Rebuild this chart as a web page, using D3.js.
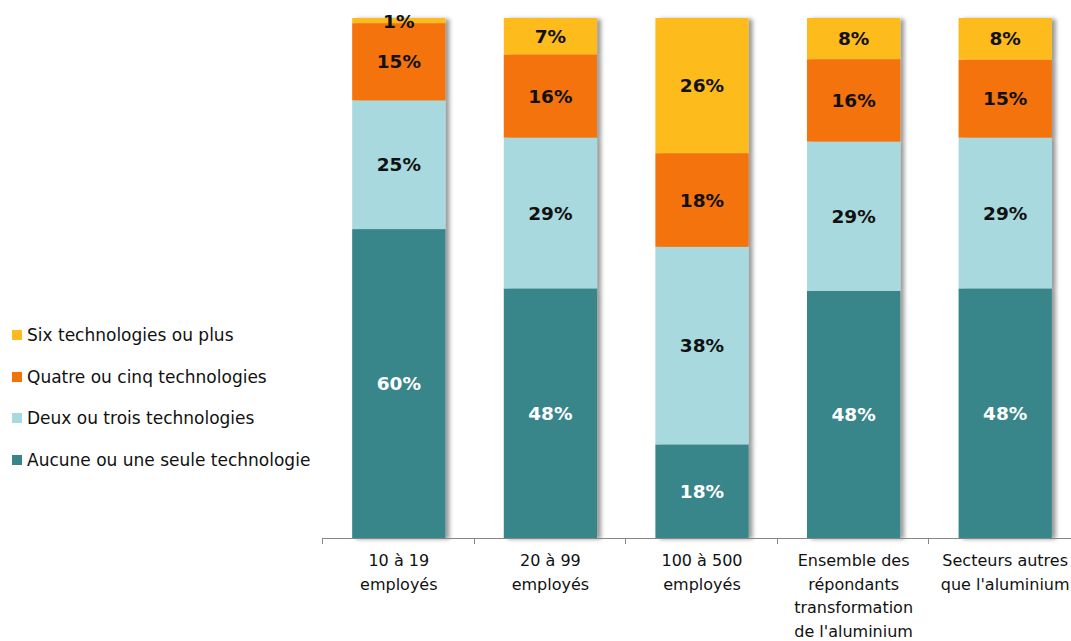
<!DOCTYPE html>
<html>
<head>
<meta charset="utf-8">
<script src="https://cdn.jsdelivr.net/npm/d3@7"></script>
<style>
  body { margin: 0; background: #fff; }
  svg { display: block; }
  text { font-family: "DejaVu Sans", Verdana, sans-serif; }
</style>
</head>
<body>
<svg id="chart" width="1071" height="641"></svg>
<script>
// Groups along the x axis (each label split into lines)
const categories = [
  ["10 à 19", "employés"],
  ["20 à 99", "employés"],
  ["100 à 500", "employés"],
  ["Ensemble des", "répondants", "transformation", "de l'aluminium"],
  ["Secteurs autres", "que l'aluminium"]
];

// Share of firms (%) by number of technologies adopted
const seriesNames = [
  "Aucune ou une seule technologie",
  "Deux ou trois technologies",
  "Quatre ou cinq technologies",
  "Six technologies ou plus"
];
const aucune = [60, 48, 18, 48, 48];
const deuxTrois = [25, 29, 38, 29, 29];
const quatreCinq = [15, 16, 18, 16, 15];
const sixPlus = [1, 7, 26, 8, 8];

const colors = ["#37858a", "#a8d9de", "#f47308", "#fdbb1e"];
const labelColors = ["#ffffff", "#111111", "#111111", "#111111"];

const rows = categories.map((c, i) => ({
  idx: i,
  s0: aucune[i], s1: deuxTrois[i], s2: quatreCinq[i], s3: sixPlus[i]
}));
const keys = ["s0", "s1", "s2", "s3"];

const svg = d3.select("#chart");
const margin = { left: 322, right: -9, top: 18, bottom: 103 };
const W = 1071, H = 641;

const x = d3.scaleBand()
  .domain(rows.map(r => r.idx))
  .range([margin.left, W - margin.right])
  .paddingInner(0.385)
  .paddingOuter(0.1925);

const y = d3.scaleLinear().domain([0, 1]).range([H - margin.bottom, margin.top]);

const stack = d3.stack().keys(keys).offset(d3.stackOffsetExpand);
const layers = stack(rows);

// soft shadow on bar edges
const defs = svg.append("defs");
const f = defs.append("filter").attr("id", "shadow")
  .attr("x", "-10%").attr("y", "-10%").attr("width", "130%").attr("height", "120%");
f.append("feDropShadow").attr("dx", 4).attr("dy", 1).attr("stdDeviation", 2)
  .attr("flood-color", "#000").attr("flood-opacity", 0.4);

// Bar stacks: draw each whole bar group with shadow
const groups = svg.append("g").selectAll("g.bar")
  .data(rows).join("g").attr("class", "bar").attr("filter", "url(#shadow)");

groups.each(function(r, i) {
  const g = d3.select(this);
  layers.forEach((layer, k) => {
    const d = layer[i];
    g.append("rect")
      .attr("x", x(r.idx) + 1)
      .attr("width", x.bandwidth())
      .attr("y", y(d[1]))
      .attr("height", y(d[0]) - y(d[1]))
      .attr("fill", colors[k]);
  });
});

// value labels
const labelG = svg.append("g");
layers.forEach((layer, k) => {
  layer.forEach((d, i) => {
    const v = d.data[keys[k]];
    labelG.append("text")
      .attr("x", x(i) + 1 + x.bandwidth() / 2)
      .attr("y", (y(d[0]) + y(d[1])) / 2 + (k === 3 && v < 3 ? 1 : 0))
      .attr("dy", "0.36em")
      .attr("text-anchor", "middle")
      .attr("font-size", 18.5)
      .attr("font-weight", "bold")
      .attr("fill", labelColors[k])
      .text(v + "%");
  });
});

// x axis with ticks between groups
const axisY = H - margin.bottom;
const axisG = svg.append("g");
const step = x.step();
const start = margin.left;
axisG.append("line")
  .attr("x1", start).attr("x2", W)
  .attr("y1", axisY + 0.5).attr("y2", axisY + 0.5)
  .attr("stroke", "#868686");
d3.range(rows.length + 1).forEach(i => {
  const tx = Math.round(start + i * step) + 0.5;
  axisG.append("line")
    .attr("x1", tx).attr("x2", tx)
    .attr("y1", axisY).attr("y2", axisY + 6)
    .attr("stroke", "#868686");
});
categories.forEach((lines, i) => {
  const cx = x(i) + 1 + x.bandwidth() / 2;
  const t = axisG.append("text")
    .attr("x", cx)
    .attr("y", axisY + 28)
    .attr("text-anchor", "middle")
    .attr("font-size", 16)
    .attr("fill", "#111");
  lines.forEach((ln, j) => {
    t.append("tspan").attr("x", cx)
      .attr("dy", j === 0 ? 0 : 23.5).text(ln);
  });
});

// legend (top entry = top of stack)
const legendY = [335, 377, 418, 460];
const legend = svg.append("g");
[3, 2, 1, 0].forEach((k, j) => {
  legend.append("rect")
    .attr("x", 12).attr("y", legendY[j] - 5)
    .attr("width", 10).attr("height", 10)
    .attr("fill", colors[k]);
  legend.append("text")
    .attr("x", 27).attr("y", legendY[j])
    .attr("dy", "0.36em")
    .attr("font-size", 17)
    .attr("fill", "#111")
    .text(seriesNames[k]);
});
</script>
</body>
</html>
